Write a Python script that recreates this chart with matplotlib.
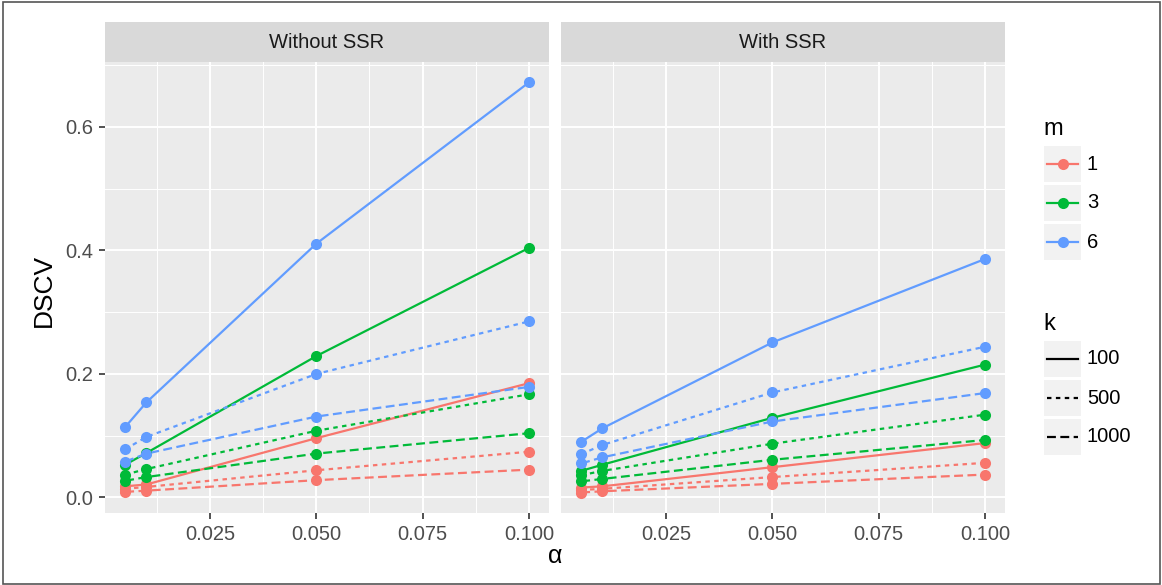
import numpy as np
import matplotlib
matplotlib.use("Agg")
import matplotlib.pyplot as plt
from matplotlib.patches import Rectangle
from matplotlib.lines import Line2D

plt.rcParams['font.family'] = ['Liberation Sans', 'DejaVu Sans']

# data
alpha = [0.005, 0.01, 0.05, 0.1]
m_levels = ['1', '3', '6']
k_levels = ['100', '500', '1000']
panels = ['Without SSR', 'With SSR']

# rows: k = 100, 500, 1000
without_m1 = [[0.018, 0.021, 0.096, 0.185],
              [0.014, 0.017, 0.044, 0.074],
              [0.009, 0.011, 0.028, 0.045]]
without_m3 = [[0.053, 0.072, 0.229, 0.404],
              [0.037, 0.046, 0.108, 0.167],
              [0.027, 0.033, 0.071, 0.104]]
without_m6 = [[0.114, 0.154, 0.411, 0.672],
              [0.078, 0.098, 0.200, 0.285],
              [0.058, 0.071, 0.131, 0.179]]
with_m1 = [[0.016, 0.018, 0.049, 0.088],
           [0.012, 0.014, 0.033, 0.056],
           [0.008, 0.010, 0.022, 0.037]]
with_m3 = [[0.043, 0.053, 0.129, 0.215],
           [0.036, 0.043, 0.087, 0.134],
           [0.026, 0.030, 0.061, 0.093]]
with_m6 = [[0.090, 0.112, 0.251, 0.386],
           [0.070, 0.085, 0.170, 0.244],
           [0.055, 0.065, 0.123, 0.169]]

panel_data = [[without_m1, without_m3, without_m6],
              [with_m1, with_m3, with_m6]]

colors = ['#F8766D', '#00BA38', '#619CFF']
dashes = [None, (2, 2), (4, 2)]
lw = 1.6
ms = 8
txt = 14.5
title_size = 18

W, H = 1162, 585
fig = plt.figure(figsize=(W / 100, H / 100), dpi=100)

panel_left = [105, 561]
panel_w = 444
top, bottom = 62, 513
strip_top = 22

all_vals = np.concatenate([np.ravel(a) for p in panel_data for a in p])
ypad = 0.05 * (all_vals.max() - all_vals.min())
ylim = (min(all_vals.min() - ypad, -0.025), all_vals.max() + ypad)
xpad = 0.05 * (max(alpha) - min(alpha))
xlim = (min(alpha) - xpad, max(alpha) + xpad)

for pi, name in enumerate(panels):
    ax = fig.add_axes([panel_left[pi] / W, 1 - bottom / H,
                       panel_w / W, (bottom - top) / H])
    ax.set_facecolor('#EBEBEB')
    for s in ax.spines.values():
        s.set_visible(False)
    ax.set_xlim(xlim)
    ax.set_ylim(ylim)
    ax.set_xticks([0.025, 0.05, 0.075, 0.1])
    ax.set_xticklabels(['0.025', '0.050', '0.075', '0.100'])
    ax.set_xticks([0.0125, 0.0375, 0.0625, 0.0875], minor=True)
    ax.set_yticks([0.0, 0.2, 0.4, 0.6])
    ax.set_yticklabels(['0.0', '0.2', '0.4', '0.6'])
    ax.set_yticks([0.1, 0.3, 0.5, 0.7], minor=True)
    ax.grid(which='major', color='white', lw=1.4)
    ax.grid(which='minor', color='white', lw=0.7)
    ax.set_axisbelow(True)
    ax.tick_params(which='major', length=4.3, width=1.2, color='#333333',
                   labelsize=txt, labelcolor='#4D4D4D', pad=4)
    ax.tick_params(which='minor', length=0)
    if pi == 1:
        ax.tick_params(axis='y', which='both', left=False, labelleft=False)

    # lines first, then points on top (ggplot order)
    for mi in range(3):
        for ki in range(3):
            ln, = ax.plot(alpha, panel_data[pi][mi][ki], color=colors[mi],
                          lw=lw, zorder=2)
            if dashes[ki] is not None:
                ln.set_dashes(dashes[ki])
    for mi in range(3):
        for ki in range(3):
            ax.plot(alpha, panel_data[pi][mi][ki], 'o', color=colors[mi],
                    ms=ms, mew=0, zorder=3)

    # strip
    sax = fig.add_axes([panel_left[pi] / W, 1 - top / H,
                        panel_w / W, (top - strip_top) / H])
    sax.set_facecolor('#D9D9D9')
    sax.set_xticks([])
    sax.set_yticks([])
    for s in sax.spines.values():
        s.set_visible(False)
    sax.text(0.5, 0.5, name, ha='center', va='center', fontsize=txt,
             color='#1A1A1A', transform=sax.transAxes)

fig.text(555 / W, 1 - 556 / H, 'α', ha='center', va='center',
         fontsize=title_size)
fig.text(44 / W, 1 - 290 / H, 'DSCV', ha='center', va='center',
         fontsize=title_size + 1, rotation=90)

# legends drawn in a pixel-coordinate overlay
lax = fig.add_axes([0, 0, 1, 1], facecolor='none')
lax.set_xlim(0, W)
lax.set_ylim(H, 0)
lax.axis('off')

key_x, key_w, key_h, pitch = 1044, 37, 36, 39


def draw_legend(title, title_y, first_y, labels, styler):
    lax.text(key_x - 1, title_y, title, fontsize=17, va='baseline',
             ha='left')
    for i, lab in enumerate(labels):
        y0 = first_y + i * pitch
        lax.add_patch(Rectangle((key_x, y0), key_w, key_h,
                                facecolor='#F2F2F2', edgecolor='none'))
        styler(i, y0 + key_h / 2)
        lax.text(key_x + key_w + 6, y0 + key_h / 2, lab, fontsize=txt,
                 va='center', ha='left')


def m_key(i, yc):
    lax.add_line(Line2D([key_x + 3, key_x + key_w - 3], [yc, yc],
                        color=colors[i], lw=lw))
    lax.plot([key_x + key_w / 2], [yc], 'o', color=colors[i], ms=ms, mew=0)


def k_key(i, yc):
    ln = Line2D([key_x + 3, key_x + key_w - 3], [yc, yc], color='black',
                lw=lw)
    if dashes[i] is not None:
        ln.set_dashes(dashes[i])
    lax.add_line(ln)


draw_legend('m', 135, 146, m_levels, m_key)
draw_legend('k', 330, 341, k_levels, k_key)

# outer frame
fig.patches.append(Rectangle((3 / W, 1 / H), (W - 5) / W, (H - 3) / H,
                             transform=fig.transFigure, fill=False,
                             edgecolor='#555555', lw=1.2))

fig.savefig('out.png', dpi=100)
